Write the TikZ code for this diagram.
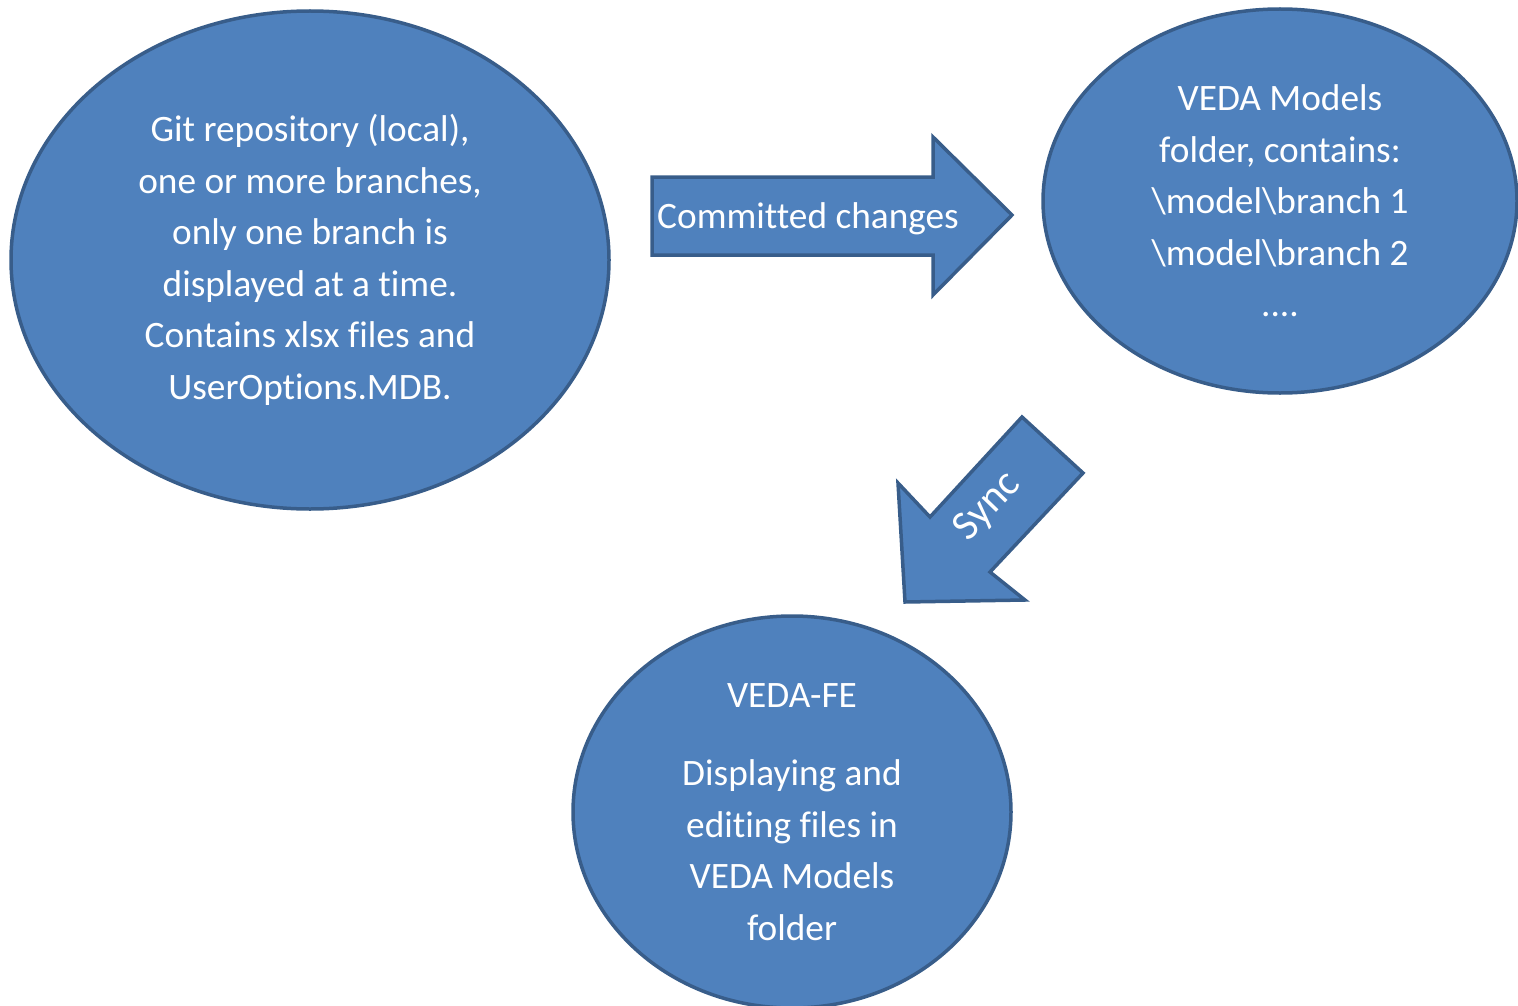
\documentclass[tikz,border=0pt]{standalone}
\usepackage{fontspec}
\setmainfont{Carlito}[Ligatures=NoCommon]
\usepackage{xcolor}
\usepackage{tikz}
\usetikzlibrary{shapes.geometric}

\definecolor{vedafill}{HTML}{4F81BD}
\definecolor{vedaline}{HTML}{385D8A}

\begin{document}
\begin{tikzpicture}[x=1pt,y=-1pt,
  blob/.style={ellipse, draw=vedaline, fill=vedafill, line width=3.5pt, inner sep=0pt,
    text=white, align=center, font=\fontsize{37.3}{51.5}\selectfont},
  block/.style={draw=vedaline, fill=vedafill, line width=3.5pt, line join=miter},
  arrowtext/.style={text=white, inner sep=0pt, font=\fontsize{37.3}{44}\selectfont}]
  \useasboundingbox (0,0) rectangle (1518,1006);

  \node[blob, minimum width=598pt, minimum height=498pt] (git) at (310,260)
    {Git repository (local),\\ one or more branches,\\ only one branch is\\
     displayed at a time.\\ Contains xlsx files and\\ UserOptions.MDB.};

  \node[blob, minimum width=474pt, minimum height=384pt] (models) at (1280,201)
    {VEDA Models\\ folder, contains:\\ \textbackslash model\textbackslash branch 1\\
     \textbackslash model\textbackslash branch 2\\ ....};

  \node[blob, minimum width=438pt, minimum height=392pt] (fe) at (792,812)
    {VEDA-FE\\[27pt] Displaying and\\ editing files in\\ VEDA Models\\ folder};

  % block arrows
  \draw[block] (652,177) -- (933,177) -- (933,137) -- (1012,215) -- (933,295)
    -- (933,255) -- (652,255) -- cycle;
  \node[arrowtext] (commit) at (808,219) {Committed changes};

  \draw[block] (1022,417) -- (1083,473) -- (990,572) -- (1025,600) -- (905,602)
    -- (898,483) -- (930,517) -- cycle;
  \node[arrowtext, rotate=46, font=\fontsize{42}{48}\selectfont] (sync) at (988,507) {Sync};

\end{tikzpicture}
\end{document}
